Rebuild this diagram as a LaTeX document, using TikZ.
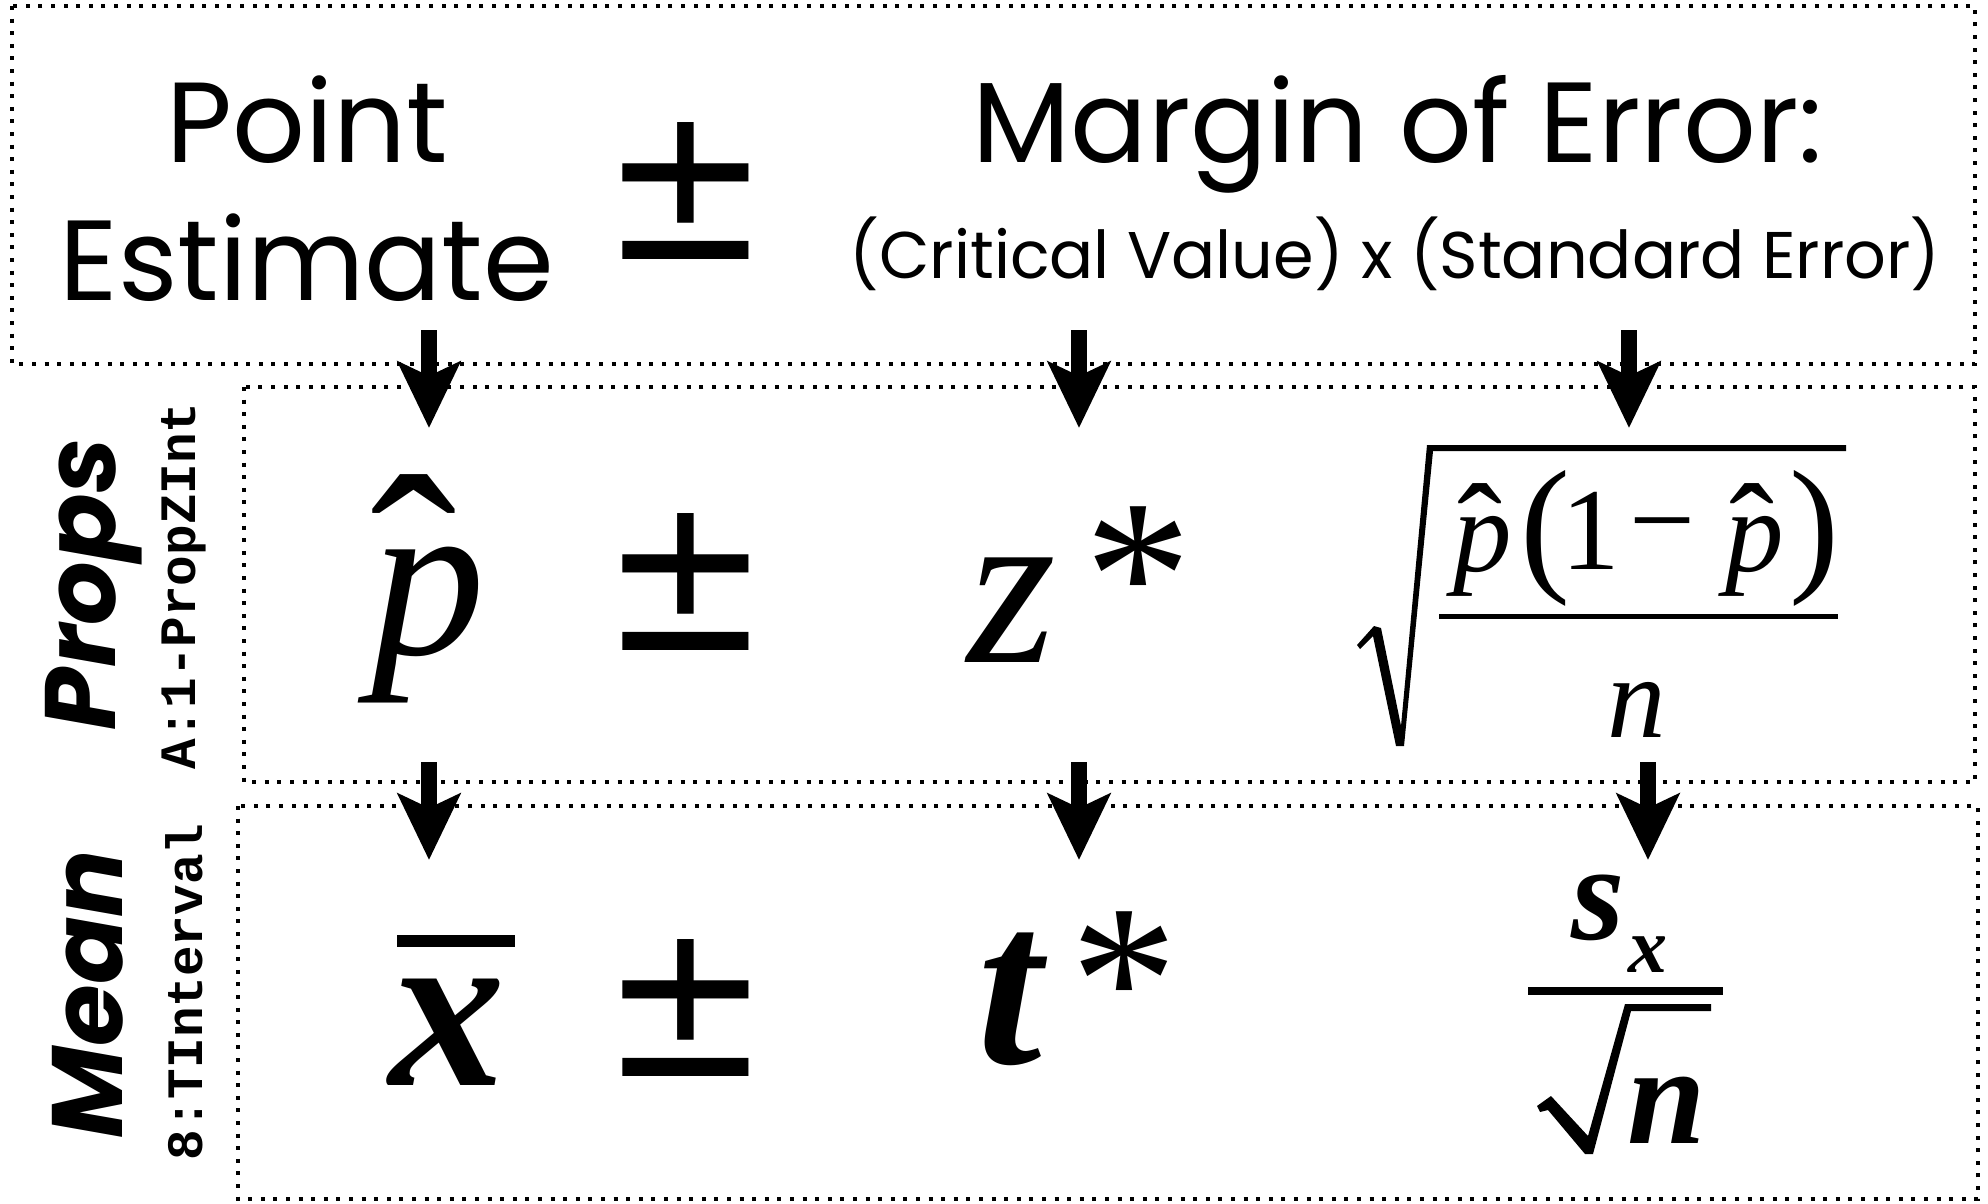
\documentclass[tikz,border=0pt]{standalone}
\usepackage{fontspec}
\setmainfont{Poppins}
\newfontfamily\tnr{Liberation Serif}
\newfontfamily\djv{DejaVu Sans}
\newfontfamily\mono{Liberation Mono}
\usetikzlibrary{arrows.meta}
\tikzset{
  dotbox/.style={draw, line width=4pt, dash pattern=on 4pt off 8.6pt},
  bigarrow/.style={line width=16pt, -{Stealth[length=66pt,width=62pt,inset=14pt]}},
  glyph/.style={inner sep=0pt, outer sep=0pt},
  headtxt/.style={glyph, anchor=base, font=\fontsize{114}{120}\selectfont},
  subtxt/.style={glyph, anchor=base, font=\fontsize{66}{70}\selectfont},
  pmsign/.style={glyph, font=\djv\fontsize{190}{200}\selectfont, xscale=1.06, yscale=1.15},
  bigit/.style={glyph, font=\tnr\itshape\fontsize{228}{230}\selectfont},
  bigbi/.style={glyph, font=\tnr\bfseries\itshape\fontsize{232}{234}\selectfont},
  star/.style={glyph, anchor=north, font=\tnr\fontsize{215}{220}\selectfont},
  bighat/.style={glyph, anchor=north, font=\tnr\fontsize{260}{260}\selectfont},
  smallhat/.style={glyph, anchor=north, font=\tnr\fontsize{135}{135}\selectfont},
  numit/.style={glyph, font=\tnr\itshape\fontsize{117}{120}\selectfont},
  numrm/.style={glyph, font=\tnr\fontsize{117}{120}\selectfont},
  paren/.style={glyph, font=\tnr\fontsize{150}{155}\selectfont},
  sidebig/.style={glyph, rotate=90, font=\bfseries\itshape\fontsize{100}{104}\selectfont},
  sidemono/.style={glyph, rotate=90, font=\mono\bfseries\fontsize{51}{54}\selectfont},
}
\begin{document}
\begin{tikzpicture}[x=1pt,y=-1pt]
\useasboundingbox (0,0) rectangle (1988,1203);
\fill[white] (0,0) rectangle (1988,1203);

% dotted frames
\draw[dotbox] (12,6) rectangle (1975,364);
\draw[dotbox] (244,387) rectangle (1975,782);
\draw[dotbox] (238,806) rectangle (1978,1199);

% header
\node[headtxt] (point) at (307,162) {Point};
\node[headtxt] (estimate) at (307,300) {Estimate};
\node[pmsign] (pm1) at (686,191) {±};
\node[headtxt] (moe) at (1398,162) {Margin of Error:};
\node[subtxt, xscale=0.99] (cvse) at (1395,278) {(Critical Value) x (Standard Error)};

% side labels
\node[sidebig] (props) at (94,584) {Props};
\node[sidemono] (propcmd) at (184,586) {A:1-PropZInt};
\node[sidebig] (mean) at (88,994) {Mean};
\node[sidemono] (meancmd) at (184,992) {8:TInterval};

% row 2 : proportions
\node[bigit] (p1) at (428,625) {p};
\node[bighat] (p1hat) at (414,475) {ˆ};
\node[pmsign] (pm2) at (686,582) {±};
\node[bigit] (z) at (1012,610) {z};
\node[star] (zstar) at (1138,507) {*};
\fill (1357,645) -- (1374,626) -- (1381,628) -- (1401,726) -- (1427,445) -- (1846,445)
      -- (1846,451) -- (1433,451) -- (1404,746) -- (1396,746) -- (1373,636) -- (1360,649) -- cycle;
\node[numit] (np1) at (1483,556) {p};
\node[smallhat] (np1hat) at (1480,484) {ˆ};
\node[paren] (lpar) at (1545,538) {(};
\node[numrm] (one) at (1591,531) {1};
\node[numrm] (minus) at (1662,539) {−};
\node[numit] (np2) at (1755,556) {p};
\node[smallhat] (np2hat) at (1752,484) {ˆ};
\node[paren] (rpar) at (1814,538) {)};
\draw[line width=5pt] (1439,616) -- (1838,616);
\node[numit] (nden) at (1637,710) {n};

% row 3 : means
\draw[line width=12pt] (397,941) -- (515,941);
\node[bigbi] (xbar) at (447,1032) {x};
\node[pmsign] (pm3) at (686,1008) {±};
\node[bigbi] (t) at (1010,999) {t};
\node[star] (tstar) at (1124,912) {*};
\node[glyph, font=\tnr\bfseries\itshape\fontsize{137}{140}\selectfont] (s) at (1598,908) {s};
\node[glyph, font=\tnr\bfseries\itshape\fontsize{78}{80}\selectfont] (sx) at (1648,955) {x};
\draw[line width=8pt] (1528,991) -- (1723,991);
\fill (1537,1106) -- (1551,1096) -- (1588,1136) -- (1625,1004) -- (1711,1004) -- (1711,1011)
      -- (1631,1011) -- (1593,1154) -- (1585,1154) -- (1548,1110) -- (1540,1112) -- cycle;
\node[glyph, font=\tnr\bfseries\itshape\fontsize{141}{145}\selectfont] (n2) at (1667,1110) {n};

% arrows
\coordinate (a1s) at (429,330); \coordinate (a1e) at (429,428);
\coordinate (a2s) at (1079,330); \coordinate (a2e) at (1079,428);
\coordinate (a3s) at (1629,330); \coordinate (a3e) at (1629,428);
\coordinate (b1s) at (429,762); \coordinate (b1e) at (429,860);
\coordinate (b2s) at (1079,762); \coordinate (b2e) at (1079,860);
\coordinate (b3s) at (1648,762); \coordinate (b3e) at (1648,860);
\draw[bigarrow] (a1s) -- (a1e);
\draw[bigarrow] (a2s) -- (a2e);
\draw[bigarrow] (a3s) -- (a3e);
\draw[bigarrow] (b1s) -- (b1e);
\draw[bigarrow] (b2s) -- (b2e);
\draw[bigarrow] (b3s) -- (b3e);
\end{tikzpicture}
\end{document}
